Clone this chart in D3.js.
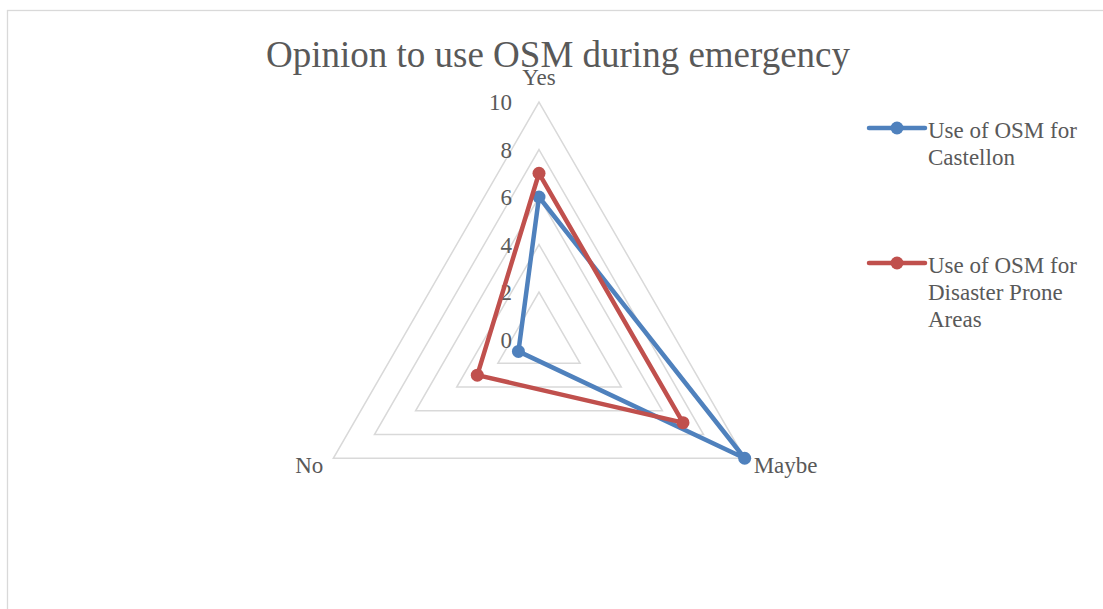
<!DOCTYPE html>
<html><head><meta charset="utf-8">
<script src="https://cdn.jsdelivr.net/npm/d3@7"></script>
<style>html,body{margin:0;padding:0;background:#fff;}svg{display:block;}</style>
</head><body>
<script>
const categories = ["Yes", "Maybe", "No"];
const seriesNames = ["Use of OSM for Castellon", "Use of OSM for Disaster Prone Areas"];
const castellon = [6, 10, 1];
const disasterProne = [7, 7, 3];
const tickValues = [0, 2, 4, 6, 8, 10];

const W = 1103, H = 609;
const cx = 539, cy = 339.5, R = 237.5;
const colors = ["#4f81bd", "#c0504d"];
const textColor = "#595959";
const font = "'Liberation Serif', 'Times New Roman', serif";

const svg = d3.select("body").append("svg").attr("width", W).attr("height", H);

svg.append("rect").attr("x", 7.5).attr("y", 10.5).attr("width", W).attr("height", H)
  .attr("fill", "#fff").attr("stroke", "#d9d9d9").attr("stroke-width", 1.3);

svg.append("text").attr("x", 558).attr("y", 67).attr("text-anchor", "middle")
  .attr("font-family", font).attr("font-size", 37).attr("fill", textColor)
  .text("Opinion to use OSM during emergency");

const r = d3.scaleLinear().domain([0, 10]).range([0, R]);
const angle = d3.scalePoint().domain(categories).range([0, 2 * Math.PI * 2 / 3]);
const g = svg.append("g").attr("transform", `translate(${cx},${cy})`);

const radial = d3.lineRadial().angle(d => angle(d.c)).radius(d => r(d.v)).curve(d3.curveLinearClosed);

// grid
tickValues.filter(t => t > 0).forEach(t => {
  g.append("path").attr("d", radial(categories.map(c => ({c, v: t}))))
    .attr("fill", "none").attr("stroke", "#d9d9d9").attr("stroke-width", 1.5);
});

// tick labels
tickValues.forEach(t => {
  g.append("text").attr("x", -27).attr("y", -r(t)).attr("dy", "0.35em")
    .attr("text-anchor", "end").attr("font-family", font).attr("font-size", 23)
    .attr("fill", textColor).text(t);
});

// category labels
const pt = (c, v) => { const a = angle(c); return [Math.sin(a) * r(v), -Math.cos(a) * r(v)]; };
categories.forEach(c => {
  const [x, y] = pt(c, 10);
  let tx = x, ty = y, anchor = "middle";
  if (c === "Yes") { ty = y - 25; }
  else if (c === "Maybe") { tx = x + 9; ty = y + 7; anchor = "start"; }
  else { tx = x - 10; ty = y + 7; anchor = "end"; }
  g.append("text").attr("x", tx).attr("y", ty).attr("dy", "0.35em").attr("text-anchor", anchor)
    .attr("font-family", font).attr("font-size", 23).attr("fill", textColor).text(c);
});

// series
[castellon, disasterProne].forEach((vals, i) => {
  const data = categories.map((c, j) => ({c, v: vals[j]}));
  g.append("path").attr("d", radial(data)).attr("fill", "none")
    .attr("stroke", colors[i]).attr("stroke-width", 4.5).attr("stroke-linejoin", "round");
  data.forEach(d => {
    const [x, y] = pt(d.c, d.v);
    g.append("circle").attr("cx", x).attr("cy", y).attr("r", 6.5).attr("fill", colors[i]);
  });
});

// legend
const legendLines = [["Use of OSM for", "Castellon"], ["Use of OSM for", "Disaster Prone", "Areas"]];
const legendY = [128, 263];
legendLines.forEach((lines, i) => {
  const lg = svg.append("g");
  lg.append("line").attr("x1", 869).attr("x2", 925).attr("y1", legendY[i]).attr("y2", legendY[i])
    .attr("stroke", colors[i]).attr("stroke-width", 4.5).attr("stroke-linecap", "round");
  lg.append("circle").attr("cx", 897).attr("cy", legendY[i]).attr("r", 6.5).attr("fill", colors[i]);
  lines.forEach((l, k) => {
    lg.append("text").attr("x", 928).attr("y", legendY[i] + 10 + k * 27)
      .attr("font-family", font).attr("font-size", 23).attr("fill", textColor).text(l);
  });
});
</script>
</body></html>
